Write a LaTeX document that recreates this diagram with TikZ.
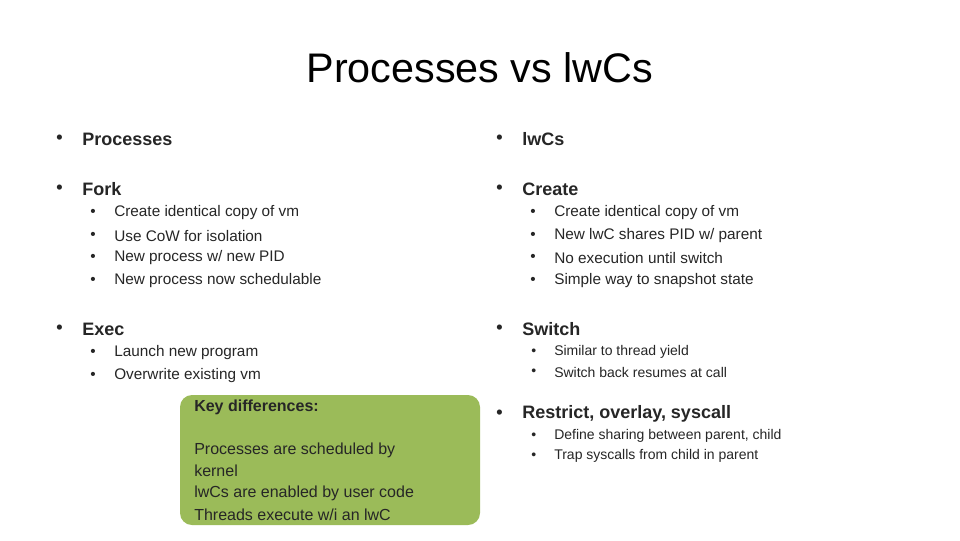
\documentclass[tikz,border=0pt]{standalone}
\usepackage{fontspec}
\setmainfont{Liberation Sans}
\begin{document}
\begin{tikzpicture}[x=0.75pt,y=-0.75pt,
  tx/.style={anchor=west,inner sep=0pt,text=black!85},
  big/.style={tx,font=\fontsize{13.5}{16}\selectfont\bfseries},
  mid/.style={tx,font=\fontsize{11.5}{14}\selectfont},
  sml/.style={tx,font=\fontsize{10.5}{13}\selectfont}]
\useasboundingbox (0,0) rectangle (960,540);
\fill[white] (0,0) rectangle (960,540);
\node[inner sep=0pt,font=\fontsize{31}{36}\selectfont] (title) at (480,68) {Processes vs lwCs};
% left column
\foreach \y/\t [count=\i] in {139/Processes,189/Fork,329/Exec}{
  \node[big] (lb\i) at (56,\y) {•}; \node[big] (lt\i) at (82,\y) {\t};}
\foreach \y/\t [count=\i] in {213/{Create identical copy of vm},236/{Use CoW for isolation},258/{New process w/ new PID},281/{New process now schedulable},353/{Launch new program},376/{Overwrite existing vm}}{
  \node[mid] (ls\i) at (90,\y) {•}; \node[mid] (lst\i) at (114,\y) {\t};}
% right column
\foreach \y/\t [count=\i] in {139/lwCs,189/Create,329/Switch,414/{Restrict, overlay, syscall}}{
  \node[big] (rb\i) at (496,\y) {•}; \node[big] (rt\i) at (522,\y) {\t};}
\foreach \y/\t [count=\i] in {213/{Create identical copy of vm},236/{New lwC shares PID w/ parent},258/{No execution until switch},281/{Simple way to snapshot state}}{
  \node[mid] (rs\i) at (530,\y) {•}; \node[mid] (rst\i) at (554,\y) {\t};}
\foreach \y/\t [count=\i] in {352/{Similar to thread yield},372/{Switch back resumes at call},436/{Define sharing between parent, child},456/{Trap syscalls from child in parent}}{
  \node[sml] (rx\i) at (531,\y) {•}; \node[sml] (rxt\i) at (554,\y) {\t};}
% green box
\node[fill={rgb,255:red,155;green,187;blue,89},rounded corners=9pt,inner sep=0pt,
  minimum width=225pt,minimum height=97.5pt] (box) at (330,460) {};
\node[tx,font=\fontsize{12}{14}\selectfont\bfseries] (k0) at (194,407) {Key differences:};
\foreach \y/\t [count=\i] in {450/{Processes are scheduled by},471/{kernel},493/{lwCs are enabled by user code},515/{Threads execute w/i an lwC}}{
  \node[tx,font=\fontsize{12}{14}\selectfont] (k\i) at (194,\y) {\t};}
\end{tikzpicture}
\end{document}
